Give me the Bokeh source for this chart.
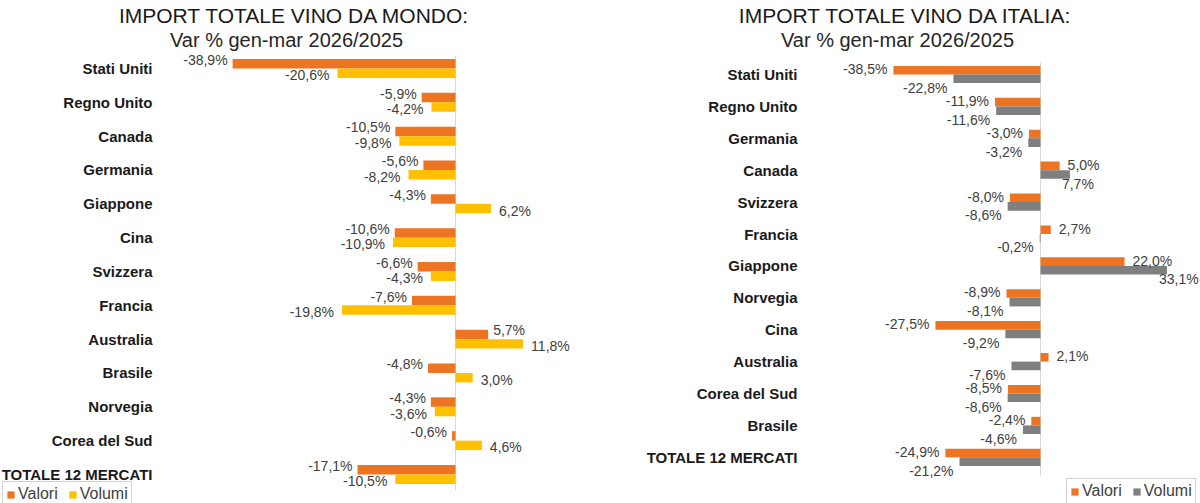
from bokeh.plotting import figure
from bokeh.models import Range1d, ColumnDataSource, Legend, LegendItem
from bokeh.layouts import row
from bokeh.core.properties import value
from bokeh.embed import file_html
from bokeh.resources import INLINE

# ---------------- data ----------------
mondo_paesi = ["Stati Uniti", "Regno Unito", "Canada", "Germania", "Giappone", "Cina",
               "Svizzera", "Francia", "Australia", "Brasile", "Norvegia", "Corea del Sud",
               "TOTALE 12 MERCATI"]
mondo_valori = [-38.9, -5.9, -10.5, -5.6, -4.3, -10.6, -6.6, -7.6, 5.7, -4.8, -4.3, -0.6, -17.1]
mondo_volumi = [-20.6, -4.2, -9.8, -8.2, 6.2, -10.9, -4.3, -19.8, 11.8, 3.0, -3.6, 4.6, -10.5]

italia_paesi = ["Stati Uniti", "Regno Unito", "Germania", "Canada", "Svizzera", "Francia",
                "Giappone", "Norvegia", "Cina", "Australia", "Corea del Sud", "Brasile",
                "TOTALE 12 MERCATI"]
italia_valori = [-38.5, -11.9, -3.0, 5.0, -8.0, 2.7, 22.0, -8.9, -27.5, 2.1, -8.5, -2.4, -24.9]
italia_volumi = [-22.8, -11.6, -3.2, 7.7, -8.6, -0.2, 33.1, -8.1, -9.2, -7.6, -8.6, -4.6, -21.2]

serie = ["Valori", "Volumi"]

# ---------------- styles ----------------
ORANGE = "#EC7422"
YELLOW = "#FFC000"
GREY = "#7F7F7F"
SANS = "Liberation Sans"
W, H = 600, 503


def fmt(v):
    return f"{v:.1f}".replace(".", ",") + "%"


def make_panel(title, subtitle, paesi, valori, volumi, vol_color, cfg):
    zero = cfg["zero_px"]
    ppp = cfg["px_per_pct"]
    first = cfg["first_row_px"]
    rowpx = cfg["row_px"]
    h = cfg["bar_h"]

    def xd(px):
        return (px - zero) / ppp

    def yd(px):
        return (px - first) / rowpx

    p = figure(width=W, height=H, x_range=Range1d(xd(0), xd(W)),
               y_range=Range1d(yd(H), yd(0)), output_backend="svg",
               toolbar_location=None, min_border=0, outline_line_color=None,
               background_fill_color="white", border_fill_color="white")
    p.axis.visible = False
    p.grid.visible = False

    idx = list(range(len(paesi)))

    # zero line
    p.segment(x0=[0], y0=[yd(cfg["zero_top_px"])], x1=[0], y1=[yd(cfg["zero_bot_px"])],
              line_color="#D9D9D9", line_width=1)

    src_val = ColumnDataSource(dict(y=[i - h / 2 for i in idx], v=valori))
    src_vol = ColumnDataSource(dict(y=[i + h / 2 for i in idx], v=volumi))
    r_val = p.hbar(y="y", left=0, right="v", height=h, source=src_val,
                   fill_color=ORANGE, line_color=None)
    r_vol = p.hbar(y="y", left=0, right="v", height=h, source=src_vol,
                   fill_color=vol_color, line_color=None)

    # data labels
    for vals, off, key in ((valori, -h / 2, "val"), (volumi, h / 2, "vol")):
        for sign in (-1, 1):
            xs = [v for v in vals if (v < 0) == (sign < 0)]
            ys = [i + off for i, v in zip(idx, vals) if (v < 0) == (sign < 0)]
            if not xs:
                continue
            gap = cfg[key + ("_neg_gap" if sign < 0 else "_pos_gap")]
            p.text(x=xs, y=ys, text=[fmt(v) for v in xs],
                   text_align="right" if sign < 0 else "left",
                   text_baseline="middle", x_offset=gap * sign,
                   y_offset=cfg[key + "_dy"],
                   text_font=value(SANS), text_font_size="14px", text_color="#404040")

    # category labels
    p.text(x=[xd(cfg["cat_right_px"])] * len(paesi), y=idx, text=paesi,
           text_align="right", text_baseline="middle", text_font=value(SANS),
           text_font_style="bold", text_font_size="15px", text_color="#1A1A1A")

    # titles
    p.text(x=[xd(cfg["title_cx"])], y=[yd(cfg["title_py"])], text=[title],
           text_align="center", text_baseline="middle", text_font=value(SANS),
           text_font_size="21px", text_color="#1A1A1A")
    p.text(x=[xd(cfg["sub_cx"])], y=[yd(cfg["sub_py"])], text=[subtitle],
           text_align="center", text_baseline="middle", text_font=value(SANS),
           text_font_size="20px", text_color="#262626")

    legend = Legend(items=[LegendItem(label=serie[0], renderers=[r_val]),
                           LegendItem(label=serie[1], renderers=[r_vol])],
                    orientation="horizontal", location=cfg["legend_loc"])
    legend.border_line_color = "#A6A6A6"
    legend.border_line_width = 1
    legend.background_fill_color = "white"
    legend.background_fill_alpha = 1
    legend.padding = 3
    legend.margin = 0
    legend.spacing = 10
    legend.glyph_width = 9
    legend.glyph_height = 9
    legend.label_standoff = 3
    legend.label_text_font = SANS
    legend.label_text_font_size = "16px"
    legend.label_text_color = "#404040"
    legend.label_height = 15
    p.add_layout(legend)
    return p


cfg_mondo = dict(zero_px=455, px_per_pct=5.73, first_row_px=68, row_px=33.83, bar_h=0.28,
                 zero_top_px=55, zero_bot_px=490, cat_right_px=152,
                 title_cx=294, title_py=15, sub_cx=286, sub_py=39,
                 val_neg_gap=5, val_pos_gap=5, val_dy=-4,
                 vol_neg_gap=8, vol_pos_gap=8, vol_dy=2,
                 legend_loc=(2, -4))
cfg_italia = dict(zero_px=440, px_per_pct=3.82, first_row_px=74, row_px=31.9, bar_h=0.27,
                  zero_top_px=62, zero_bot_px=475, cat_right_px=197,
                  title_cx=305, title_py=15, sub_cx=297, sub_py=39,
                  val_neg_gap=6, val_pos_gap=8, val_dy=-1,
                  vol_neg_gap=6, vol_pos_gap=-8, vol_dy=9,
                  legend_loc=(466, -1))

p1 = make_panel("IMPORT TOTALE VINO DA MONDO:", "Var % gen-mar 2026/2025",
                mondo_paesi, mondo_valori, mondo_volumi, YELLOW, cfg_mondo)
p2 = make_panel("IMPORT TOTALE VINO DA ITALIA:", "Var % gen-mar 2026/2025",
                italia_paesi, italia_valori, italia_volumi, GREY, cfg_italia)

layout = row(p1, p2)
open("out.html", "w").write(file_html(layout, INLINE))
